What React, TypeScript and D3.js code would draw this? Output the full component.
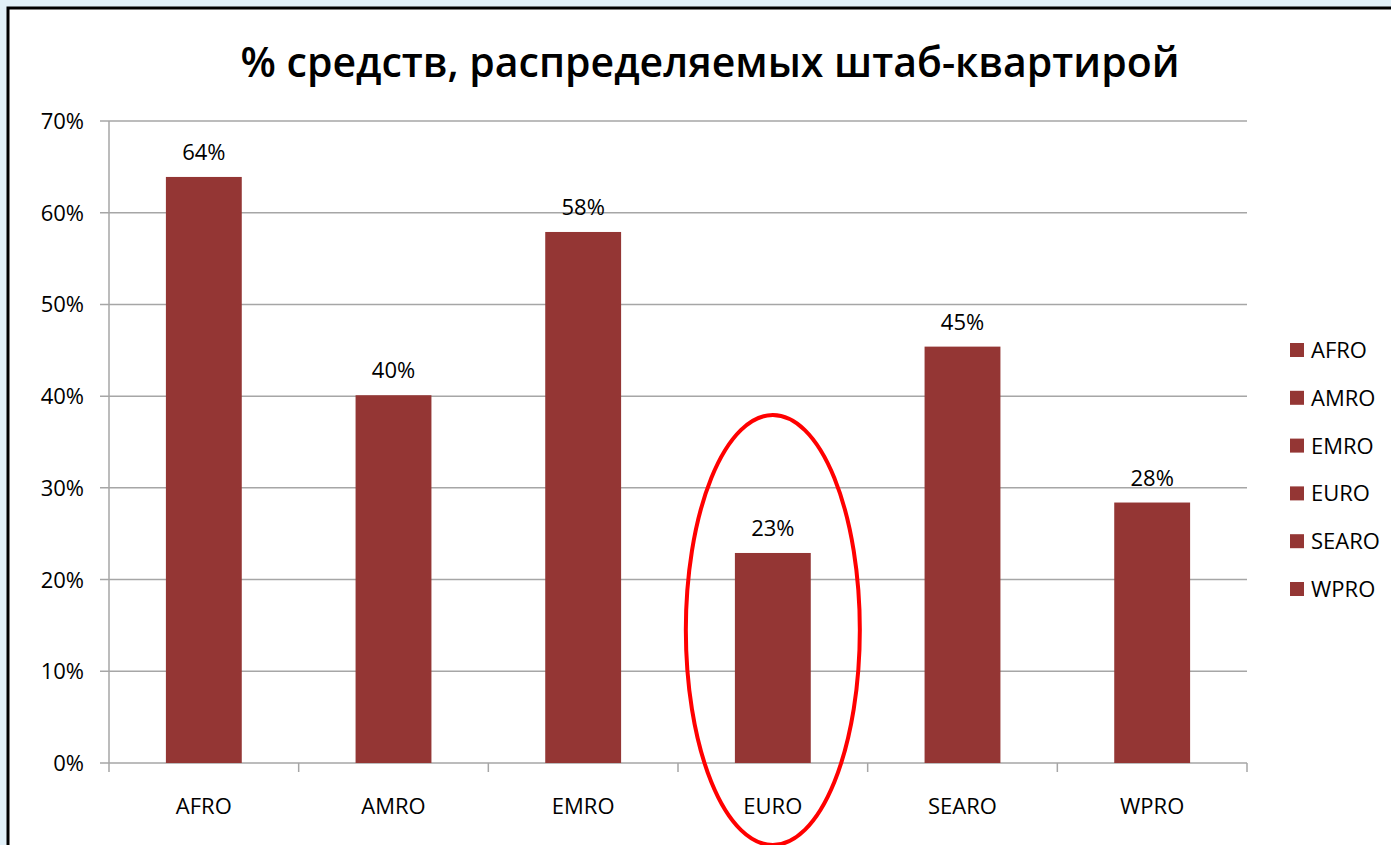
import React from "react";
import * as d3 from "d3";

const categories = ["AFRO", "AMRO", "EMRO", "EURO", "SEARO", "WPRO"];
const values = [0.639, 0.401, 0.579, 0.229, 0.454, 0.284];
const yTicks = [0, 0.1, 0.2, 0.3, 0.4, 0.5, 0.6, 0.7];
const title = "% средств, распределяемых штаб-квартирой";

const W = 1391;
const H = 845;
const FONT = "'Open Sans', 'DejaVu Sans', sans-serif";
const BAR = "#943634";
const AXIS = "#a6a6a6";
const FS = 22;

export default function App() {
  const margin = { left: 109, right: 144, top: 121, bottom: 82 };
  const x = d3
    .scaleBand<string>()
    .domain(categories)
    .range([margin.left, W - margin.right])
    .paddingInner(0.6)
    .paddingOuter(0.3);
  const step = x.step();
  const y = d3.scaleLinear().domain([0, 0.7]).range([H - margin.bottom, margin.top]);
  const fmt = d3.format(".0%");
  const x0 = margin.left;
  const x1 = W - margin.right;
  const yBase = y(0);

  const euroX = (x("EURO") ?? 0) + x.bandwidth() / 2;

  return (
    <svg
      width={W}
      height={H}
      style={{ position: "absolute", left: 0, top: 0, display: "block" }}
      fontFamily={FONT}
    >
      <rect x={0} y={0} width={W} height={H} fill="#e2f1f9" />
      <rect x={8} y={8} width={W} height={H} fill="#ffffff" stroke="#000" strokeWidth={3} />

      <text x={710} y={77} textAnchor="middle" fontSize={41} fontWeight={600} fill="#000">
        {title}
      </text>

      {/* gridlines */}
      {yTicks.map((t) => (
        <g key={t}>
          <line x1={x0 - 9} x2={x1} y1={y(t)} y2={y(t)} stroke={AXIS} strokeWidth={1.5} />
          <text x={84} y={y(t) + 8} textAnchor="end" fontSize={FS} fill="#000">
            {fmt(t)}
          </text>
        </g>
      ))}
      <line x1={x0} x2={x0} y1={margin.top} y2={yBase + 9} stroke={AXIS} strokeWidth={1.5} />
      {categories.map((c, i) => (
        <line
          key={c}
          x1={x0 + step * (i + 1)}
          x2={x0 + step * (i + 1)}
          y1={yBase}
          y2={yBase + 9}
          stroke={AXIS}
          strokeWidth={1.5}
        />
      ))}

      {/* bars */}
      {categories.map((c, i) => (
        <g key={c}>
          <rect
            x={x(c)}
            y={y(values[i])}
            width={x.bandwidth()}
            height={yBase - y(values[i])}
            fill={BAR}
          />
          <text
            x={(x(c) ?? 0) + x.bandwidth() / 2}
            y={y(values[i]) - 17}
            textAnchor="middle"
            fontSize={FS}
            fill="#000"
          >
            {fmt(values[i])}
          </text>
          <text
            x={(x(c) ?? 0) + x.bandwidth() / 2}
            y={yBase + 51}
            textAnchor="middle"
            fontSize={FS}
            fill="#000"
          >
            {c}
          </text>
        </g>
      ))}

      {/* legend */}
      {categories.map((c, i) => {
        const ly = 350 + i * 47.8;
        return (
          <g key={c}>
            <rect x={1290} y={ly - 7} width={14} height={14} fill={BAR} />
            <text x={1311} y={ly + 8} fontSize={FS} fill="#000">
              {c}
            </text>
          </g>
        );
      })}

      <ellipse cx={euroX} cy={630} rx={87} ry={215} fill="none" stroke="#ff0000" strokeWidth={4} />
    </svg>
  );
}
